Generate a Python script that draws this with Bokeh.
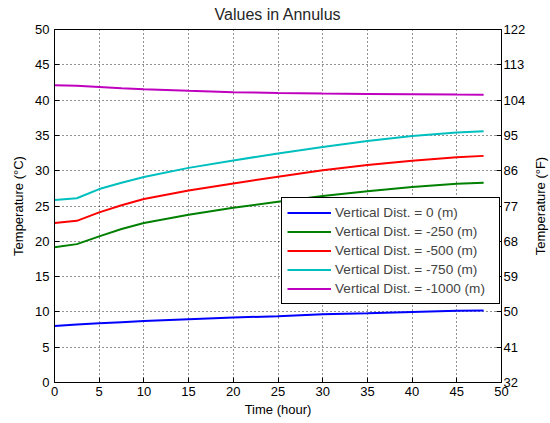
from bokeh.plotting import figure
from bokeh.layouts import row
from bokeh.models import Range1d, LinearAxis, FixedTicker, Legend, LegendItem
from bokeh.embed import file_html
from bokeh.resources import INLINE

hours = [0, 2.5, 5, 7.5, 10, 15, 20, 25, 30, 35, 40, 45, 48]
t_0 = [8.0, 8.2, 8.4, 8.55, 8.7, 8.97, 9.2, 9.4, 9.65, 9.8, 10.0, 10.15, 10.2]
t_250 = [19.15, 19.6, 20.7, 21.75, 22.6, 23.75, 24.75, 25.6, 26.4, 27.1, 27.7, 28.15, 28.3]
t_500 = [22.6, 22.9, 24.1, 25.1, 26.0, 27.2, 28.2, 29.15, 30.05, 30.8, 31.4, 31.9, 32.1]
t_750 = [25.85, 26.1, 27.4, 28.3, 29.1, 30.4, 31.45, 32.45, 33.35, 34.2, 34.9, 35.4, 35.6]
t_1000 = [42.1, 42.02, 41.85, 41.68, 41.55, 41.32, 41.12, 41.0, 40.92, 40.86, 40.82, 40.78, 40.77]

labels = ["Vertical Dist. = 0 (m)", "Vertical Dist. = -250 (m)", "Vertical Dist. = -500 (m)",
          "Vertical Dist. = -750 (m)", "Vertical Dist. = -1000 (m)"]
colors = ["#0000FF", "#008000", "#FF0000", "#00BFBF", "#BF00BF"]
series = [t_0, t_250, t_500, t_750, t_1000]

x_ticks = [0, 5, 10, 15, 20, 25, 30, 35, 40, 45, 50]
c_ticks = [0, 5, 10, 15, 20, 25, 30, 35, 40, 45, 50]
f_ticks = [32, 41, 50, 59, 68, 77, 86, 95, 104, 113, 122]

FONT = "Liberation Sans"

p = figure(width=528, height=423, output_backend="svg", toolbar_location=None,
           x_range=Range1d(0, 50), y_range=Range1d(0, 50),
           min_border_left=54, min_border_right=27, min_border_top=28, min_border_bottom=41,
           title="Values in Annulus")
p.title.align = "center"
p.title.text_font = FONT
p.title.text_font_size = "16px"
p.title.text_font_style = "normal"
p.title.text_color = "#262626"
p.title.vertical_align = "top"
p.title.standoff = 10

p.outline_line_color = "black"
p.outline_line_alpha = 1
p.background_fill_color = "white"
p.border_fill_color = "white"

p.extra_y_ranges = {"F": Range1d(32, 122)}
right = LinearAxis(y_range_name="F")
p.add_layout(right, "right")

p.xaxis.ticker = FixedTicker(ticks=x_ticks)
p.yaxis[0].ticker = FixedTicker(ticks=c_ticks)
right.ticker = FixedTicker(ticks=f_ticks)
p.xaxis.axis_label = "Time (hour)"
p.yaxis[0].axis_label = "Temperature (°C)"

for ax in [p.xaxis[0], p.yaxis[0], right]:
    ax.major_tick_in = 5
    ax.major_tick_out = 0
    ax.minor_tick_line_color = None
    ax.axis_line_color = "black"
    ax.major_tick_line_color = "black"
    ax.major_label_text_font = FONT
    ax.major_label_text_font_size = "13px"
    ax.major_label_text_color = "black"
    ax.axis_label_text_font = FONT
    ax.axis_label_text_font_size = "13px"
    ax.axis_label_text_font_style = "normal"
    ax.axis_label_text_color = "black"
p.xaxis.major_label_standoff = 4
p.xaxis.axis_label_standoff = 3
p.yaxis[0].major_label_standoff = 5
p.yaxis[0].axis_label_standoff = 6
right.major_label_standoff = 2

for g in [p.xgrid[0], p.ygrid[0]]:
    g.grid_line_color = "black"
    g.grid_line_alpha = 0.85
    g.grid_line_dash = "1 3"
    g.grid_line_width = 1
p.xgrid.ticker = FixedTicker(ticks=x_ticks)
p.ygrid.ticker = FixedTicker(ticks=c_ticks)

items = []
for lab, col, ys in zip(labels, colors, series):
    r = p.line(hours, ys, line_color=col, line_width=2)
    items.append(LegendItem(label=lab, renderers=[r]))

legend = Legend(items=items, location=(227, 78))
legend.border_line_color = "black"
legend.border_line_width = 1
legend.border_line_alpha = 1
legend.background_fill_color = "white"
legend.background_fill_alpha = 1
legend.label_text_font = FONT
legend.label_text_font_size = "13.6px"
legend.glyph_width = 44
legend.glyph_height = 19
legend.label_height = 19
legend.label_width = 159
legend.label_standoff = 4
legend.spacing = 0
legend.padding = 5
legend.margin = 0
p.add_layout(legend, "center")

# narrow companion figure carrying the right-hand (°F) axis title, read bottom-to-top
p2 = figure(width=22, height=423, output_backend="svg", toolbar_location=None,
            x_range=Range1d(0, 1), y_range=Range1d(32, 122),
            min_border_left=19, min_border_right=0, min_border_top=28, min_border_bottom=41)
p2.outline_line_color = None
p2.xaxis.visible = False
p2.xgrid.visible = False
p2.ygrid.visible = False
ax2 = p2.yaxis[0]
ax2.ticker = FixedTicker(ticks=[])
ax2.major_tick_in = 0
ax2.major_tick_out = 0
ax2.minor_tick_line_color = None
ax2.axis_line_color = None
ax2.major_label_text_font_size = "0px"
ax2.major_label_standoff = 0
ax2.axis_label = "Temperature (°F)"
ax2.axis_label_standoff = 0
ax2.axis_label_text_font = FONT
ax2.axis_label_text_font_size = "13px"
ax2.axis_label_text_font_style = "normal"
ax2.axis_label_text_color = "black"

layout = row(p, p2, spacing=0)

open("out.html", "w").write(file_html(layout, INLINE))
